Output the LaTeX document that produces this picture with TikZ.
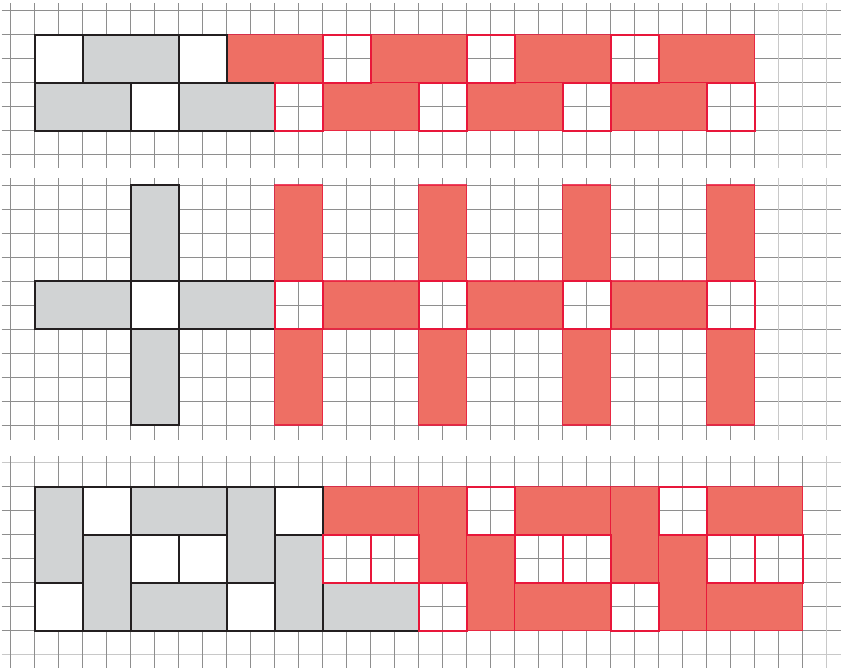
\documentclass[tikz,border=0pt]{standalone}
\usetikzlibrary{positioning}
\definecolor{tilegray}{HTML}{D1D3D4}
\definecolor{tilered}{HTML}{EE6F64}
\definecolor{edgered}{HTML}{E8173A}
\definecolor{edgeblack}{HTML}{231F20}
\definecolor{gridgray}{HTML}{8E8E8E}
\definecolor{gridlight}{HTML}{C8C8C8}

\begin{document}
\begin{tikzpicture}[x=0.6cm, y=0.6cm,
  gridline/.style={gridgray, line width=0.7pt},
  gridfaint/.style={gridlight, line width=1pt},
  graytile/.style={draw=edgeblack, fill=tilegray, line width=1.2pt},
  whitetile/.style={draw=edgeblack, fill=white, line width=1.2pt},
  redtile/.style={draw=edgered, draw opacity=0.8, fill=tilered, line width=0.8pt},
  redhole/.style={draw=edgered, line width=1.3pt}]
  \useasboundingbox (-0.445,0.445) rectangle (34.597,-27.388);

  % Panel 1: two brick rows
  \begin{scope}
    \foreach \r in {0,...,6} \draw[gridline] (-0.375,-\r) -- (34.597,-\r);
    \foreach \c in {0,...,31} \draw[gridline] (\c,0.3) -- (\c,-6.55);
    \foreach \c in {32,33,34} \draw[gridfaint] (\c,0.3) -- (\c,-6.55);
    % red continuation
    \foreach \c in {9,15,21,27} \draw[redtile] (\c,-1) rectangle ++(4,-2);
    \foreach \c in {13,19,25} \draw[redtile] (\c,-3) rectangle ++(4,-2);
    % gray start
    \draw[whitetile] (1,-1) rectangle (3,-3);
    \draw[graytile]  (3,-1) rectangle (7,-3);
    \draw[whitetile] (7,-1) rectangle (9,-3);
    \draw[graytile]  (1,-3) rectangle (5,-5);
    \draw[whitetile] (5,-3) rectangle (7,-5);
    \draw[graytile]  (7,-3) rectangle (11,-5);
    % holes
    \foreach \c in {13,19,25} \draw[redhole] (\c,-1) rectangle ++(2,-2);
    \foreach \c in {11,17,23,29} \draw[redhole] (\c,-3) rectangle ++(2,-2);
  \end{scope}

  % Panel 2: crosses
  \begin{scope}[shift={(0,-7.264)}]
    \foreach \r in {0,...,10} \draw[gridline] (-0.375,-\r) -- (34.597,-\r);
    \foreach \c in {0,...,31} \draw[gridline] (\c,0.28) -- (\c,-10.63);
    \foreach \c in {32,33,34} \draw[gridfaint] (\c,0.28) -- (\c,-10.63);
    % red continuation
    \foreach \c in {11,17,23,29} {
      \draw[redtile] (\c,0) rectangle ++(2,-4);
      \draw[redtile] (\c,-6) rectangle ++(2,-4);
    }
    \foreach \c in {13,19,25} \draw[redtile] (\c,-4) rectangle ++(4,-2);
    % gray cross
    \draw[graytile]  (5,0) rectangle (7,-4);
    \draw[graytile]  (1,-4) rectangle (5,-6);
    \draw[whitetile] (5,-4) rectangle (7,-6);
    \draw[graytile]  (7,-4) rectangle (11,-6);
    \draw[graytile]  (5,-6) rectangle (7,-10);
    % holes
    \foreach \c in {11,17,23,29} \draw[redhole] (\c,-4) rectangle ++(2,-2);
  \end{scope}

  % Panel 3: woven blocks
  \begin{scope}[shift={(0,-18.835)}]
    \foreach \r in {1,...,7} \draw[gridline] (-0.375,-\r) -- (34.597,-\r);
    \foreach \r in {0,8} \draw[gridfaint] (-0.375,-\r) -- (34.597,-\r);
    \foreach \c in {0,...,33} \draw[gridline] (\c,0.28) -- (\c,-8.553);
    \draw[gridfaint] (34,0.28) -- (34,-8.553);
    % red continuation
    \draw[redtile] (13,-1) rectangle (17,-3);
    \foreach \c in {17,25} {
      \draw[redtile] (\c,-1) rectangle ++(2,-4);
      \draw[redtile] (\c+2,-3) rectangle ++(2,-4);
      \draw[redtile] (\c+4,-1) rectangle ++(4,-2);
      \draw[redtile] (\c+4,-5) rectangle ++(4,-2);
    }
    % gray start
    \foreach \c in {1,9} {
      \draw[graytile]  (\c,-1) rectangle ++(2,-4);
      \draw[whitetile] (\c,-5) rectangle ++(2,-2);
      \draw[whitetile] (\c+2,-1) rectangle ++(2,-2);
      \draw[graytile]  (\c+2,-3) rectangle ++(2,-4);
    }
    \draw[graytile]  (5,-1) rectangle (9,-3);
    \draw[whitetile] (5,-3) rectangle (7,-5);
    \draw[whitetile] (7,-3) rectangle (9,-5);
    \draw[graytile]  (5,-5) rectangle (9,-7);
    \draw[graytile]  (13,-5) rectangle (17,-7);
    % holes
    \draw[redhole] (13,-3) rectangle (15,-5);
    \draw[redhole] (15,-3) rectangle (17,-5);
    \foreach \c in {17,25} {
      \draw[redhole] (\c,-5) rectangle ++(2,-2);
      \draw[redhole] (\c+2,-1) rectangle ++(2,-2);
      \draw[redhole] (\c+4,-3) rectangle ++(2,-2);
      \draw[redhole] (\c+6,-3) rectangle ++(2,-2);
    }
  \end{scope}
\end{tikzpicture}
\end{document}
